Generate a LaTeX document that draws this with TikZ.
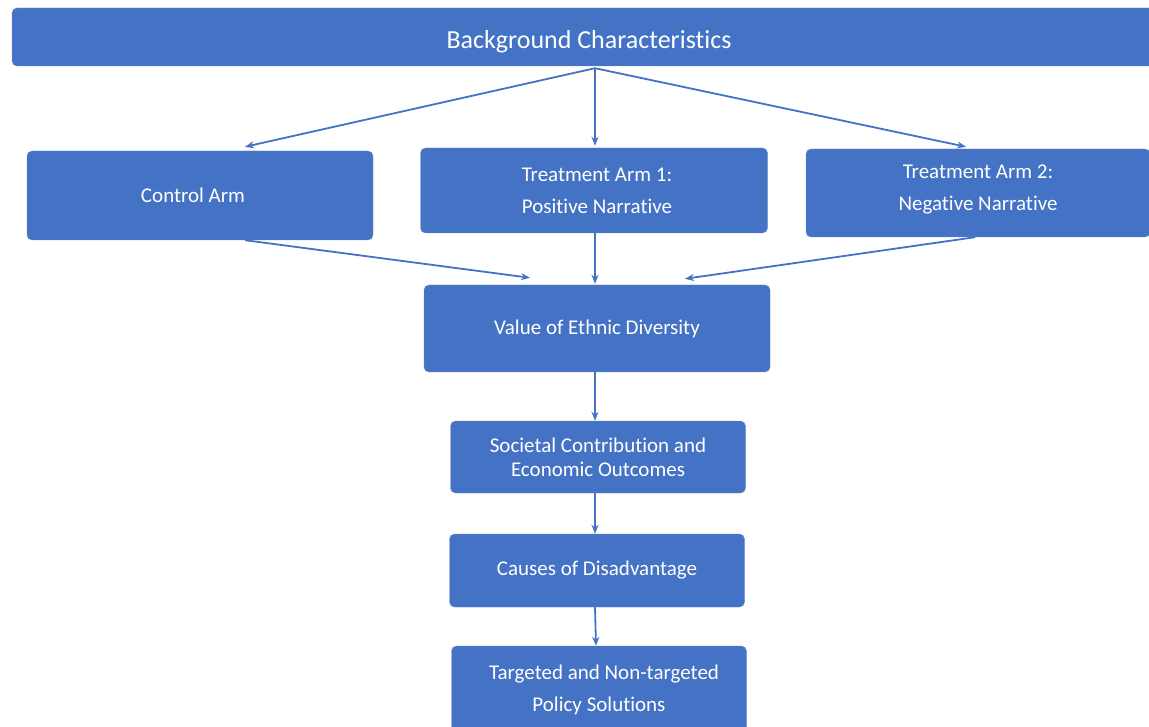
\documentclass[tikz,border=0pt]{standalone}
\usepackage{fontspec}
\setmainfont[Ligatures=NoCommon]{Carlito}
\usetikzlibrary{arrows.meta,calc}
\definecolor{boxblue}{HTML}{4472C4}
\begin{document}
\begin{tikzpicture}[x=1pt,y=-1pt,
        box/.style={fill=boxblue, draw=boxblue!80!white, rounded corners=5pt, text=white, align=center,
            font=\fontsize{21}{25}\selectfont, inner sep=0pt},
        link/.style={boxblue, line width=1.8pt, -{Stealth[length=9pt,width=7pt]}}]
        \useasboundingbox (0,0) rectangle (1149,727);
        \node[box, minimum width=1154pt, minimum height=58pt, font=\fontsize{26}{30}\selectfont] (bg) at (589,37) {\raisebox{-5pt}[\height][\depth]{Background Characteristics}};
        \node[box, minimum width=346pt, minimum height=89pt] (ctrl) at (200,195.5) {\hspace*{-14pt}Control Arm};
        \node[box, minimum width=347pt, minimum height=85pt] (arma) at (594,190.5) {\hspace*{6pt}Treatment Arm 1:\\[7pt]\hspace*{6pt}Positive Narrative};
        \node[box, minimum width=344pt, minimum height=88pt] (armb) at (978,193) {\raisebox{4pt}[\height][\depth]{Treatment Arm 2:}\\[7pt]\raisebox{4pt}[\height][\depth]{Negative Narrative}};
        \node[box, minimum width=346pt, minimum height=87pt] (value) at (597,328.5) {Value of Ethnic Diversity};
        \node[box, minimum width=295pt, minimum height=72pt] (soc) at (598,457) {Societal Contribution and\\[-1pt]Economic Outcomes};
        \node[box, minimum width=295pt, minimum height=73pt] (cause) at (597,570.5) {Causes of Disadvantage};
        \node[box, minimum width=295pt, minimum height=88pt] (policy) at (599,690) {\hspace*{10pt}Targeted and Non-targeted\\[7pt]Policy Solutions};
        \coordinate (split) at ($(bg.south)+(6,2)$);
        \draw[link] (split) -- ($(ctrl.north)+(45,-4)$);
        \draw[link] (split) -- ($(arma.north)+(1,-2)$);
        \draw[link] (split) -- ($(armb.north)+(-12,-2)$);
        \draw[link] ($(ctrl.south)+(45,0)$) -- ($(value.north)+(-67,-7)$);
        \draw[link] ($(arma.south)+(1,0)$) -- ($(value.north)+(-2,-1)$);
        \draw[link] ($(armb.south)+(-3,0)$) -- ($(value.north)+(88,-6)$);
        \draw[link] ($(value.south)+(-2,0)$) -- ($(soc.north)+(-3,0)$);
        \draw[link] ($(soc.south)+(-3,0)$) -- ($(cause.north)+(-2,0)$);
        \draw[link] ($(cause.south)+(-2,0)$) -- ($(policy.north)+(-3,0)$);
\end{tikzpicture}
\end{document}
